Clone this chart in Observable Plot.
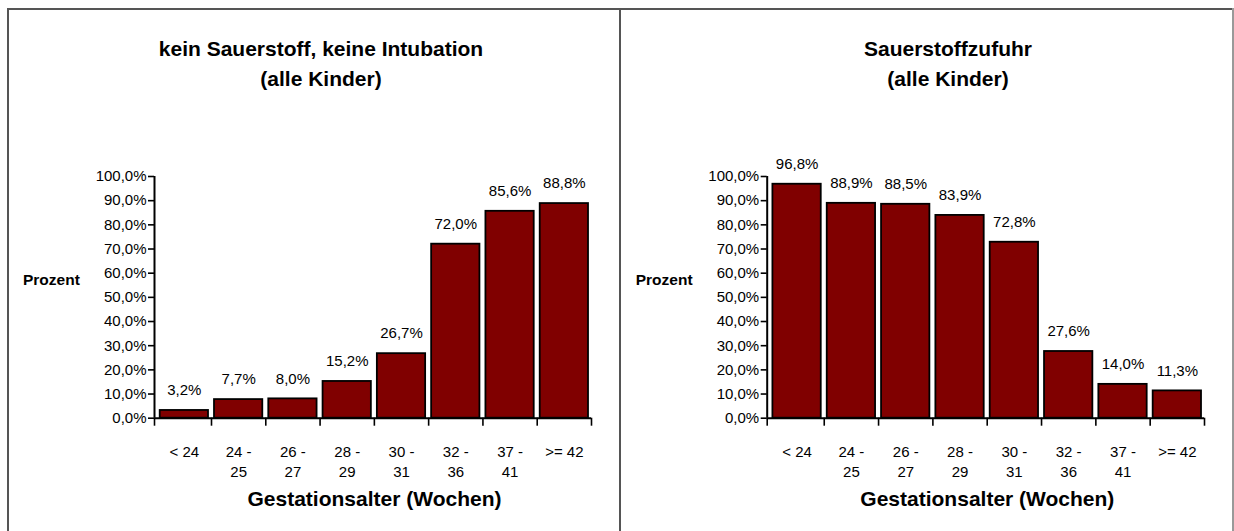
<!DOCTYPE html>
<html>
<head>
<meta charset="utf-8">
<script src="https://cdn.jsdelivr.net/npm/d3@7"></script>
<script src="https://cdn.jsdelivr.net/npm/@observablehq/plot@0.6"></script>
<style>
  html, body { margin: 0; padding: 0; background: #fff; }
  body { font-family: "Liberation Sans", Arial, sans-serif; }
  #wrap { position: relative; width: 1234px; height: 531px; overflow: hidden; background: #fff; }
  .panel { position: absolute; top: 0; }
  .title { position: absolute; top: 34px; width: 500px; text-align: center; font-weight: bold; font-size: 21px; line-height: 30px; color: #000; }
  .line { position: absolute; background: #555; }
</style>
</head>
<body>
<div id="wrap">
  <div id="left" class="panel" style="left:0px"></div>
  <div id="right" class="panel" style="left:620px"></div>
  <div class="title" style="left:71px">kein Sauerstoff, keine Intubation<br>(alle Kinder)</div>
  <div class="title" style="left:698px">Sauerstoffzufuhr<br>(alle Kinder)</div>
  <div class="line" style="left:7px; top:8px; width:1227px; height:2px;"></div>
  <div class="line" style="left:7px; top:8px; width:2px; height:523px;"></div>
  <div class="line" style="left:619px; top:8px; width:2px; height:523px;"></div>
  <div class="line" style="left:1232px; top:8px; width:2px; height:523px; background:#999;"></div>
</div>
<script>
const categories = ["< 24", "24 -\n25", "26 -\n27", "28 -\n29", "30 -\n31", "32 -\n36", "37 -\n41", ">= 42"];
const keinSauerstoff = [3.2, 7.7, 8.0, 15.2, 26.7, 72.0, 85.6, 88.8];
const sauerstoffzufuhr = [96.8, 88.9, 88.5, 83.9, 72.8, 27.6, 14.0, 11.3];
const yTicks = [0, 10, 20, 30, 40, 50, 60, 70, 80, 90, 100];
const yLabel = "Prozent";
const xLabel = "Gestationsalter (Wochen)";

const fmt = v => v.toFixed(1).replace(".", ",") + "%";
const font = "Liberation Sans, Arial, sans-serif";

function panel(values, width, marginLeft, marginRight) {
  const rows = values.map((v, i) => ({i, v, cat: categories[i]}));
  const x0 = -0.05;
  const boundaryTicks = [x0].concat(d3.range(1, categories.length + 1));
  return Plot.plot({
    width,
    height: 531,
    marginLeft,
    marginRight,
    marginTop: 176,
    marginBottom: 113.3,
    style: {fontFamily: font, background: "transparent", overflow: "visible"},
    x: {domain: [x0, categories.length]},
    y: {domain: [0, 100]},
    marks: [
      Plot.rectY(rows, {x1: d => d.i, x2: d => d.i + 1, y: "v", fill: "#800000", stroke: "#000", strokeWidth: 1.8, insetLeft: 3, insetRight: 3}),
      Plot.ruleX([x0], {y1: 0, y2: 100, stroke: "#000", strokeWidth: 2}),
      Plot.ruleY([0], {x1: x0, x2: categories.length, stroke: "#000", strokeWidth: 2}),
      Plot.axisY({ticks: yTicks, tickSize: 6, tickPadding: 2, tickFormat: fmt, fontSize: 15, stroke: "#000", strokeWidth: 1.6, label: null, fill: "#000"}),
      Plot.axisX({ticks: boundaryTicks, tickSize: 8, tickFormat: () => "", stroke: "#000", strokeWidth: 1.6, label: null}),
      Plot.text(rows, {x: d => d.i + 0.5, y: "v", text: d => fmt(d.v), dy: -20, lineAnchor: "middle", fontSize: 15, fill: "#000"}),
      Plot.text(rows, {x: d => d.i + 0.5, text: "cat", frameAnchor: "bottom", lineAnchor: "top", dy: 24.3, lineHeight: 1.333, fontSize: 15, fill: "#000"}),
      Plot.text([yLabel], {frameAnchor: "left", textAnchor: "start", dx: -131.5, dy: -17.6, lineAnchor: "middle", fontSize: 15.5, fontWeight: "bold", fill: "#000"}),
      Plot.text([xLabel], {frameAnchor: "bottom", dx: 1.5, dy: 80.6, lineAnchor: "middle", fontSize: 21, fontWeight: "bold", fill: "#000"})
    ]
  });
}

document.getElementById("left").append(panel(keinSauerstoff, 620, 154, 29));
document.getElementById("right").append(panel(sauerstoffzufuhr, 614, 146.7, 30));
</script>
</body>
</html>
